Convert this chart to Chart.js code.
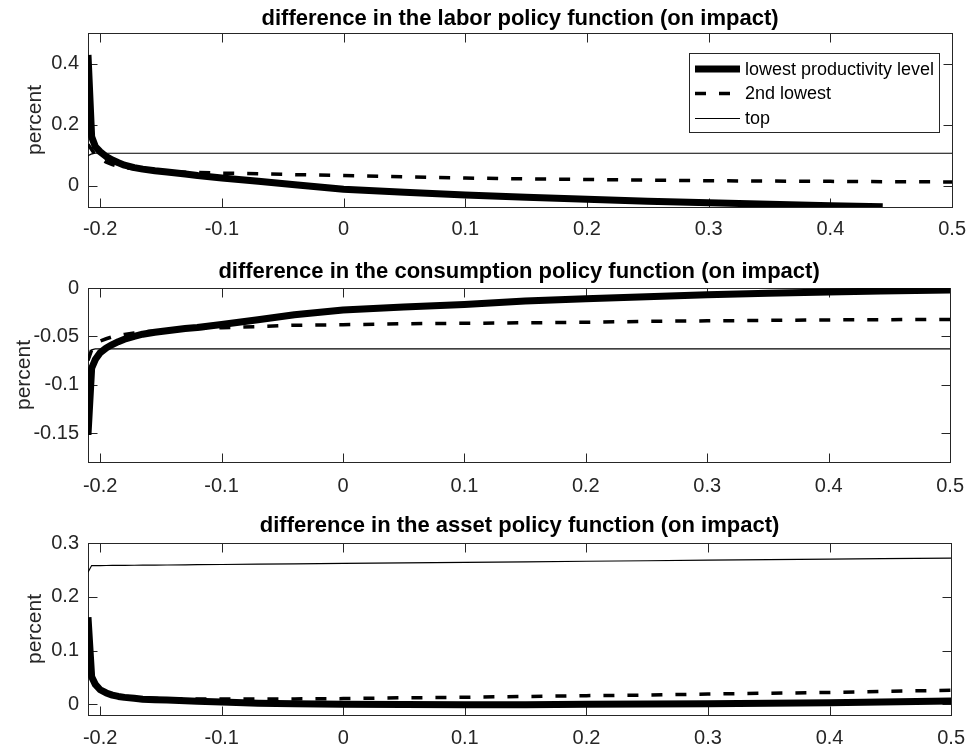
<!DOCTYPE html>
<html><head><meta charset="utf-8">
<script src="https://cdn.jsdelivr.net/npm/chart.js@4.4.1/dist/chart.umd.min.js"></script>
<style>
html,body{margin:0;padding:0;background:#fff;}
#wrap{position:relative;width:976px;height:751px;overflow:hidden;}
canvas{position:absolute;left:0;}
</style></head><body>
<div id="wrap">
<canvas id="c1" style="top:0px;width:976px;height:250px" width="976" height="250"></canvas>
<canvas id="c2" style="top:250px;width:976px;height:250px" width="976" height="250"></canvas>
<canvas id="c3" style="top:500px;width:976px;height:251px" width="976" height="251"></canvas>
</div>
<script>
// ---------------- data ----------------
const seriesNames = ["lowest productivity level", "2nd lowest", "top"];
const xGrid = [-0.21, -0.207, -0.204, -0.2, -0.195, -0.19, -0.185, -0.18, -0.172, -0.165, -0.155, -0.145, -0.13, -0.12,
               -0.1, -0.07, -0.04, 0, 0.05, 0.1, 0.15, 0.2, 0.25, 0.3, 0.35, 0.4, 0.443, 0.5];

const laborLowest = [0.428, 0.16, 0.128, 0.111, 0.095, 0.084, 0.075, 0.067, 0.059, 0.054, 0.049, 0.045, 0.038, 0.033,
                     0.025, 0.014, 0.003, -0.012, -0.022, -0.031, -0.038, -0.045, -0.051, -0.056, -0.061, -0.066, -0.069, null];
const laborSecond = [0.135, 0.118, 0.1, 0.088, 0.077, 0.069, 0.063, 0.059, 0.055, 0.052, 0.049, 0.046, 0.044, 0.043,
                     0.041, 0.039, 0.036, 0.033, 0.029, 0.025, 0.022, 0.020, 0.018, 0.016, 0.015, 0.014, 0.013, 0.012];
const laborTop    = [0.098, 0.104, 0.106, 0.106, 0.106, 0.106, 0.106, 0.106, 0.106, 0.106, 0.106, 0.106, 0.106, 0.106,
                     0.106, 0.106, 0.106, 0.106, 0.106, 0.106, 0.106, 0.106, 0.106, 0.106, 0.106, 0.106, 0.106, 0.106];

const consLowest = [-0.152, -0.083, -0.074, -0.067, -0.062, -0.0585, -0.0555, -0.053, -0.050, -0.0478, -0.0458, -0.0442, -0.042, -0.0408,
                    -0.0378, -0.0328, -0.0277, -0.0228, -0.0196, -0.017, -0.0135, -0.011, -0.009, -0.007, -0.0055, -0.0042, -0.0032, -0.002];
const consSecond = [-0.075, -0.064, -0.059, -0.055, -0.0525, -0.0505, -0.049, -0.048, -0.0465, -0.0455, -0.0445, -0.0437, -0.0425, -0.042,
                    -0.041, -0.040, -0.0385, -0.038, -0.037, -0.0365, -0.036, -0.0355, -0.0345, -0.034, -0.0335, -0.033, -0.0328, -0.0325];
const consTop    = [-0.072, -0.064, -0.063, -0.063, -0.063, -0.063, -0.063, -0.063, -0.063, -0.063, -0.063, -0.063, -0.063, -0.063,
                    -0.063, -0.063, -0.063, -0.063, -0.063, -0.063, -0.063, -0.063, -0.063, -0.063, -0.063, -0.063, -0.063, -0.063];

const assetLowest = [0.162, 0.051, 0.037, 0.027, 0.021, 0.017, 0.0145, 0.0128, 0.011, 0.0095, 0.0085, 0.0078, 0.0065, 0.0057,
                     0.0042, 0.002, 0.001, 0.0, -0.0005, -0.001, -0.0008, 0.0, 0.0005, 0.001, 0.002, 0.003, 0.004, 0.006];
const assetSecond = [0.155, 0.05, 0.036, 0.028, 0.022, 0.019, 0.0165, 0.015, 0.013, 0.012, 0.011, 0.0105, 0.0099, 0.0098,
                     0.0097, 0.0098, 0.010, 0.0105, 0.012, 0.013, 0.0145, 0.016, 0.017, 0.019, 0.0205, 0.022, 0.024, 0.026];
const assetTop    = [0.2456, 0.258, 0.258, 0.258, 0.2581, 0.2582, 0.2583, 0.2584, 0.2586, 0.2587, 0.2589, 0.2591, 0.2594, 0.2596,
                     0.26, 0.2606, 0.2612, 0.262, 0.263, 0.264, 0.265, 0.266, 0.267, 0.268, 0.269, 0.270, 0.2709, 0.272];

const xTicks = [-0.2, -0.1, 0, 0.1, 0.2, 0.3, 0.4, 0.5];
const xTickLabels = ["-0.2", "-0.1", "0", "0.1", "0.2", "0.3", "0.4", "0.5"];
const laborYTicks = [0, 0.2, 0.4];
const laborYTickLabels = ["0", "0.2", "0.4"];
const consYTicks = [-0.15, -0.1, -0.05, 0];
const consYTickLabels = ["-0.15", "-0.1", "-0.05", "0"];
const assetYTicks = [0, 0.1, 0.2, 0.3];
const assetYTickLabels = ["0", "0.1", "0.2", "0.3"];

const titles = [
  "difference in the labor policy function (on impact)",
  "difference in the consumption policy function (on impact)",
  "difference in the asset policy function (on impact)"
];
const yLabel = "percent";

// ---------------- drawing ----------------
const FONT = '"Liberation Sans", Arial, Helvetica, sans-serif';
const AXC = '#262626';

function pts(arr) { return xGrid.map((x, i) => ({x: x, y: arr[i]})); }

function makeDatasets(lo, se, tp) {
  return [
    {label: seriesNames[0], data: pts(lo), borderColor: '#000', borderWidth: 7, borderCapStyle: 'butt', borderJoinStyle: 'round', order: 3},
    {label: seriesNames[1], data: pts(se), borderColor: '#000', borderWidth: 3.5, borderDash: [11, 13], borderCapStyle: 'butt', order: 2},
    {label: seriesNames[2], data: pts(tp), borderColor: '#000', borderWidth: 1.2, order: 1}
  ].map(d => Object.assign(d, {pointRadius: 0, pointHoverRadius: 0, fill: false, tension: 0, spanGaps: false}));
}

const matlabAxes = {
  id: 'matlabAxes',
  beforeDatasetsDraw(chart, args, o) {
    const ctx = chart.ctx, a = chart.chartArea;
    const xs = chart.scales.x, ys = chart.scales.y;
    ctx.save();
    ctx.strokeStyle = AXC; ctx.lineWidth = 1;
    const L = Math.round(a.left) + 0.5, R = Math.round(a.right) + 0.5, T = Math.round(a.top) + 0.5, B = Math.round(a.bottom) + 0.5;
    ctx.strokeRect(L, T, R - L, B - T);
    const TL = 9;
    ctx.beginPath();
    xs.ticks.forEach(t => {
      const p = Math.round(xs.getPixelForValue(t.value)) + 0.5;
      ctx.moveTo(p, B); ctx.lineTo(p, B - TL);
      ctx.moveTo(p, T); ctx.lineTo(p, T + TL);
    });
    ys.ticks.forEach(t => {
      const p = Math.round(ys.getPixelForValue(t.value)) + 0.5;
      ctx.moveTo(L, p); ctx.lineTo(L + TL, p);
      ctx.moveTo(R, p); ctx.lineTo(R - TL, p);
    });
    ctx.stroke();
    // title
    ctx.fillStyle = '#000';
    ctx.font = 'bold 22px ' + FONT;
    ctx.textAlign = 'center'; ctx.textBaseline = 'alphabetic';
    ctx.fillText(o.title, (a.left + a.right) / 2, o.titleY);
    // y label
    ctx.fillStyle = AXC;
    ctx.font = '21px ' + FONT;
    ctx.translate(o.ylabelX, (a.top + a.bottom) / 2);
    ctx.rotate(-Math.PI / 2);
    ctx.fillText(o.ylabel, 0, 0);
    ctx.restore();
  },
  afterDraw(chart, args, o) {
    if (!o.legend) return;
    const ctx = chart.ctx, lg = o.legend;
    ctx.save();
    ctx.fillStyle = '#fff';
    ctx.fillRect(lg.x, lg.y, lg.w, lg.h);
    ctx.strokeStyle = AXC; ctx.lineWidth = 1;
    ctx.strokeRect(lg.x + 0.5, lg.y + 0.5, lg.w, lg.h);
    ctx.font = '18px ' + FONT;
    ctx.textAlign = 'left'; ctx.textBaseline = 'middle';
    chart.data.datasets.forEach((ds, i) => {
      const y = lg.rows[i];
      ctx.save();
      ctx.strokeStyle = ds.borderColor; ctx.lineWidth = ds.borderWidth;
      ctx.setLineDash(ds.borderDash || []);
      ctx.lineCap = 'butt';
      ctx.beginPath(); ctx.moveTo(lg.x + 6, y); ctx.lineTo(lg.x + 51, y); ctx.stroke();
      ctx.restore();
      ctx.fillStyle = '#000';
      ctx.fillText(ds.label, lg.x + 56, y + 1);
    });
    ctx.restore();
  }
};

function makeChart(id, datasets, yMin, yMax, yTicks, yTickLabels, cfg) {
  return new Chart(document.getElementById(id), {
    type: 'line',
    data: {datasets: datasets},
    plugins: [matlabAxes],
    options: {
      responsive: false, animation: false, events: [],
      layout: {padding: {top: cfg.plotTop, right: 17, bottom: 0, left: 0}},
      plugins: {
        legend: {display: false}, tooltip: {enabled: false}, title: {display: false},
        matlabAxes: {title: cfg.title, titleY: cfg.titleY, ylabel: yLabel, ylabelX: cfg.ylabelX, legend: cfg.legend}
      },
      scales: {
        x: {
          type: 'linear', min: -0.21, max: 0.5,
          grid: {display: false, drawTicks: false}, border: {display: false},
          afterBuildTicks: s => { s.ticks = xTicks.map(v => ({value: v})); },
          afterFit: s => { s.height = cfg.xHeight; },
          ticks: {autoSkip: false, maxRotation: 0, padding: cfg.xPad, color: AXC,
                  font: {family: FONT, size: 20},
                  callback: (v, i) => xTickLabels[i]}
        },
        y: {
          type: 'linear', min: yMin, max: yMax,
          grid: {display: false, drawTicks: false}, border: {display: false},
          afterBuildTicks: s => { s.ticks = yTicks.map(v => ({value: v})); },
          afterFit: s => { s.width = 88; },
          ticks: {autoSkip: false, padding: 9, color: AXC,
                  font: {family: FONT, size: 20},
                  callback: (v, i) => yTickLabels[i]}
        }
      }
    }
  });
}

makeChart('c1', makeDatasets(laborLowest, laborSecond, laborTop), -0.07, 0.5, laborYTicks, laborYTickLabels,
  {plotTop: 33, xHeight: 43, xPad: 10, title: titles[0], titleY: 25, ylabelX: 40.5,
   legend: {x: 689, y: 53, w: 250, h: 79, rows: [69, 93.5, 118.5]}});
makeChart('c2', makeDatasets(consLowest, consSecond, consTop), -0.18, 0, consYTicks, consYTickLabels,
  {plotTop: 38, xHeight: 38, xPad: 12, title: titles[1], titleY: 28, ylabelX: 29.5});
makeChart('c3', makeDatasets(assetLowest, assetSecond, assetTop), -0.02, 0.3, assetYTicks, assetYTickLabels,
  {plotTop: 43, xHeight: 36, xPad: 11, title: titles[2], titleY: 31.5, ylabelX: 41});
</script>
</body></html>
